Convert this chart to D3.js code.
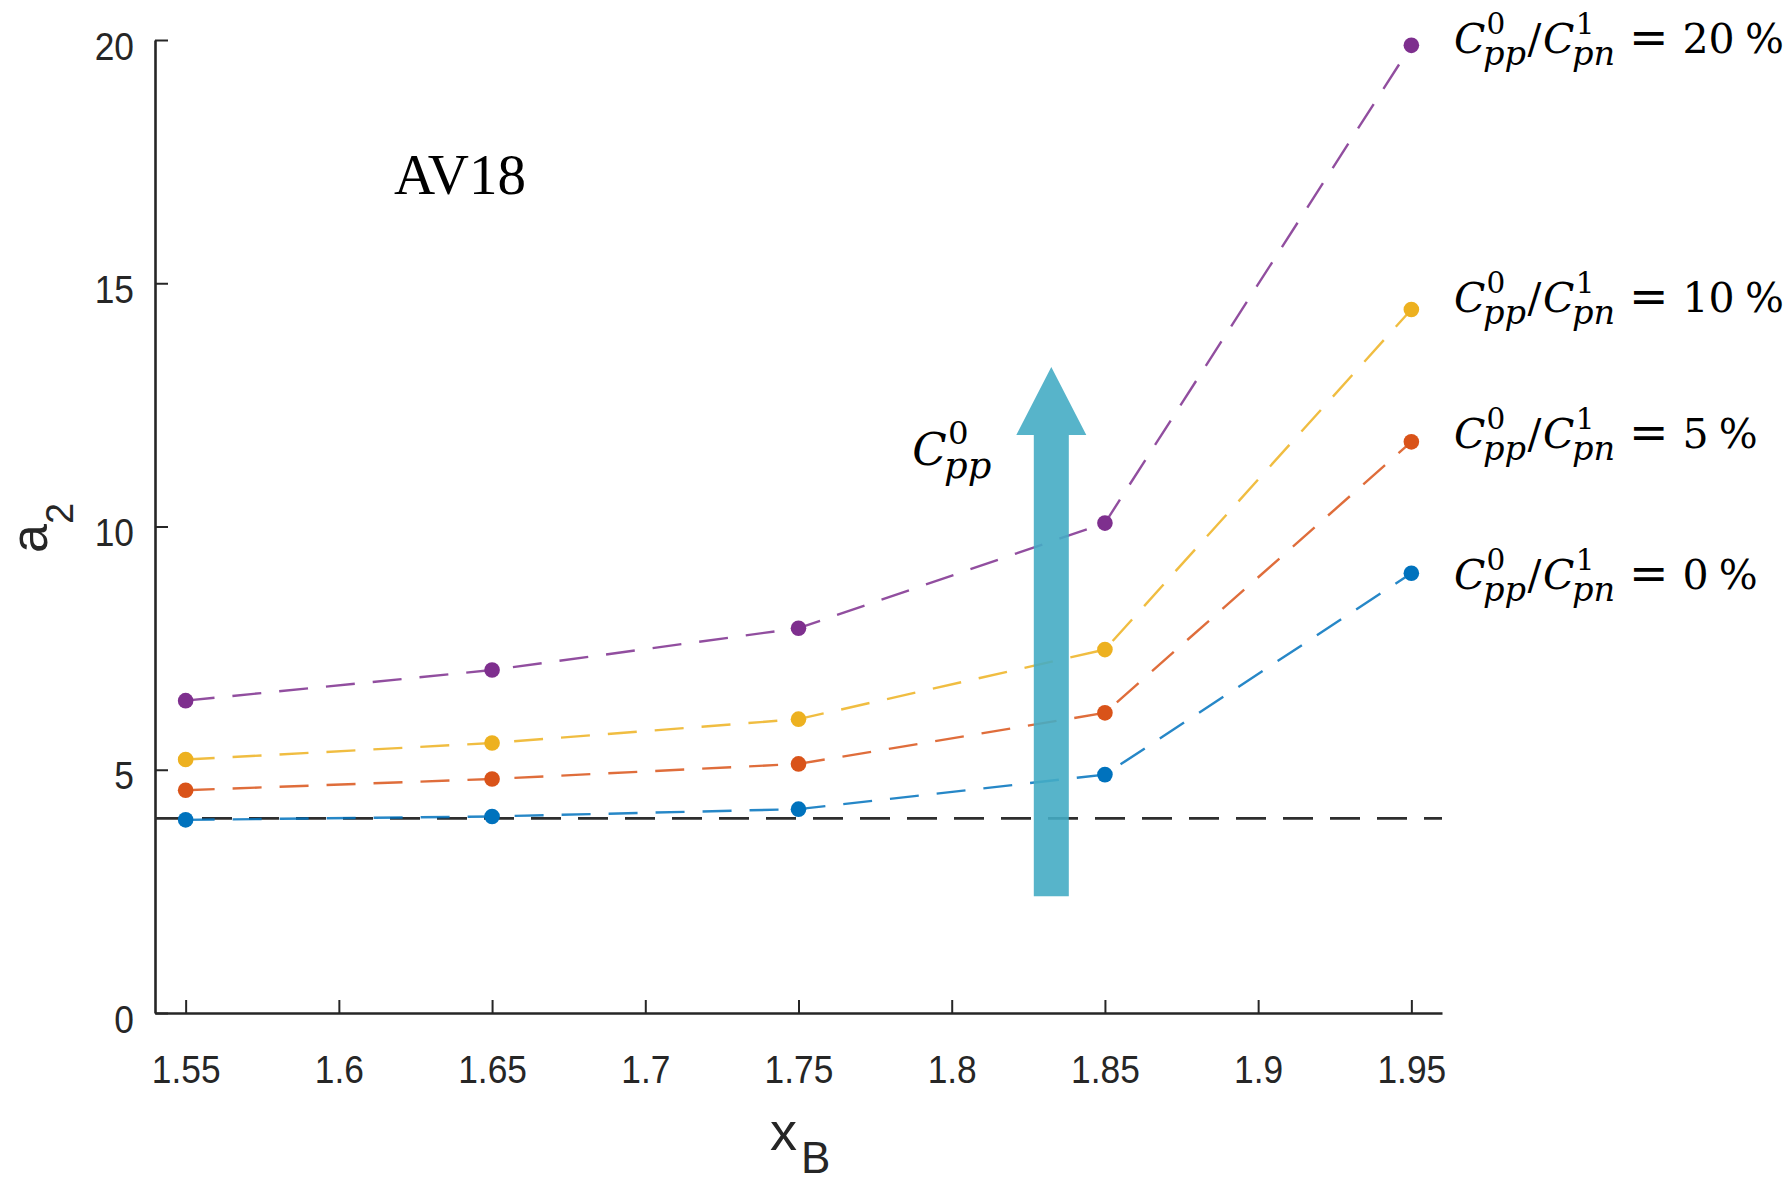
<!DOCTYPE html>
<html>
<head>
<meta charset="utf-8">
<script src="https://cdn.jsdelivr.net/npm/d3@7"></script>
<style>
  body { margin: 0; background: #ffffff; }
  svg { display: block; }
  .tick text { fill: #262626; font-family: "Liberation Sans", Arial, sans-serif; }
  .math text { fill: #000; font-family: "DejaVu Serif", serif; }
</style>
</head>
<body>
<svg id="chart" width="1791" height="1182"></svg>
<script>
// Bjorken x values at which a2 was evaluated
const xB = [1.55, 1.65, 1.75, 1.85, 1.95];

// a2 for each C0pp / C1pn ratio
const ratioLabels = ["0", "5", "10", "20"];
const a2Ratio0  = [3.97, 4.04, 4.19, 4.90, 9.04];
const a2Ratio5  = [4.58, 4.81, 5.12, 6.17, 11.74];
const a2Ratio10 = [5.21, 5.55, 6.04, 7.47, 14.46];
const a2Ratio20 = [6.42, 7.05, 7.91, 10.07, 19.89];

// Axis ticks
const xTickValues = [1.55, 1.6, 1.65, 1.7, 1.75, 1.8, 1.85, 1.9, 1.95];
const xTickLabels = ["1.55", "1.6", "1.65", "1.7", "1.75", "1.8", "1.85", "1.9", "1.95"];
const yTickValues = [0, 5, 10, 15, 20];
const yTickLabels = ["0", "5", "10", "15", "20"];

// Deuteron-like reference level
const referenceA2 = 4;

// Arrow annotation (x position, from a2, to a2)
const arrowX = 1.8325;
const arrowFrom = 2.4;
const arrowTo = 13.28;

const modelName = "AV18";

// ---- styles ----
const seriesColors = ["#0072BD", "#D95319", "#EDB120", "#7E2F8E"];
const labelNudge = [15.5, 6, 2.5, 7.5];
const axisColor = "#262626";

const svg = d3.select("#chart");

const x = d3.scaleLinear().domain([1.54, 1.96]).range([155, 1442]);
const y = d3.scaleLinear().domain([0, 20]).range([1013, 40]);

const tickScaleX = 0.93;

// x axis
const gx = svg.append("g")
  .attr("transform", `translate(0,${y(0)})`)
  .call(d3.axisBottom(x)
    .tickValues(xTickValues)
    .tickFormat((d, i) => xTickLabels[i])
    .tickSize(-13)
    .tickSizeOuter(0)
    .tickPadding(43));
gx.select(".domain").attr("stroke", axisColor).attr("stroke-width", 2.6);
gx.selectAll(".tick line").attr("stroke", axisColor).attr("stroke-width", 2);
gx.selectAll(".tick text")
  .style("font-size", "38px")
  .attr("transform", `scale(${tickScaleX},1)`);

// y axis
const gy = svg.append("g")
  .attr("transform", `translate(${x(1.54)},0)`)
  .call(d3.axisLeft(y)
    .tickValues(yTickValues)
    .tickFormat((d, i) => yTickLabels[i])
    .tickSize(-13)
    .tickSizeOuter(0)
    .tickPadding(21));
gy.select(".domain").attr("stroke", axisColor).attr("stroke-width", 2.6);
gy.selectAll(".tick line").attr("stroke", axisColor).attr("stroke-width", 2);
gy.selectAll(".tick text")
  .style("font-size", "38px")
  .attr("x", -21 / tickScaleX)
  .attr("dy", "0.5em")
  .attr("transform", `scale(${tickScaleX},1)`);

// axis titles
svg.append("text")
  .attr("x", 770).attr("y", 1150)
  .attr("fill", axisColor)
  .style("font-family", "'Liberation Sans', Arial, sans-serif")
  .style("font-size", "54px")
  .text("x")
  .append("tspan")
  .attr("dy", 23)
  .attr("dx", 4)
  .style("font-size", "44px")
  .text("B");

svg.append("text")
  .attr("transform", "translate(47,553) rotate(-90)")
  .attr("fill", axisColor)
  .style("font-family", "'Liberation Sans', Arial, sans-serif")
  .style("font-size", "52px")
  .text("a")
  .append("tspan")
  .attr("dy", 26)
  .style("font-size", "38px")
  .text("2");

// reference line
svg.append("line")
  .attr("x1", x(1.54)).attr("x2", x(1.96))
  .attr("y1", y(referenceA2)).attr("y2", y(referenceA2))
  .attr("stroke", "#2e2e2e")
  .attr("stroke-width", 2.8)
  .attr("stroke-dasharray", "30,17");

// series
const seriesValues = [a2Ratio0, a2Ratio5, a2Ratio10, a2Ratio20];
const line = d3.line().x((d, i) => x(xB[i])).y(d => y(d));

seriesValues.forEach((vals, k) => {
  const g = svg.append("g");
  g.append("path")
    .datum(vals)
    .attr("d", line)
    .attr("fill", "none")
    .attr("stroke", seriesColors[k])
    .attr("stroke-width", 2.4)
    .attr("stroke-opacity", 0.85)
    .attr("stroke-dasharray", "29,18");
  g.selectAll("circle")
    .data(vals)
    .join("circle")
    .attr("cx", (d, i) => x(xB[i]))
    .attr("cy", d => y(d))
    .attr("r", 7.8)
    .attr("fill", seriesColors[k]);
});

// arrow
const ax = x(arrowX);
const shaftHalf = 17.5, headHalf = 35, headLen = 68;
const yTip = y(arrowTo), yBase = y(arrowFrom), yHead = yTip + headLen;
svg.append("path")
  .attr("d", `M${ax - shaftHalf},${yBase} L${ax - shaftHalf},${yHead} L${ax - headHalf},${yHead}
              L${ax},${yTip} L${ax + headHalf},${yHead} L${ax + shaftHalf},${yHead} L${ax + shaftHalf},${yBase} Z`)
  .attr("fill", "#45ACC4")
  .attr("fill-opacity", 0.9);

// math label helper: base symbols with stacked super/subscripts
function mathLabel(parent, x0, y0, F, parts) {
  const g = parent.append("g").attr("class", "math");
  let cx = x0;
  parts.forEach(p => {
    if (p.gap) { cx += p.gap * F; return; }
    if (p.base !== undefined) {
      const size = F * (p.scale || 1);
      const t = g.append("text")
        .attr("x", cx).attr("y", y0)
        .style("font-size", size + "px")
        .style("font-style", p.italic ? "italic" : "normal")
        .text(p.base);
      cx += t.node().getComputedTextLength();
    }
    if (p.sup || p.sub) {
      let w = 0;
      if (p.sup) {
        const s = g.append("text")
          .attr("x", cx + 0.03 * F).attr("y", y0 - 0.46 * F)
          .style("font-size", (0.72 * F) + "px")
          .text(p.sup);
        w = Math.max(w, s.node().getComputedTextLength() + 0.03 * F);
      }
      if (p.sub) {
        const s = g.append("text")
          .attr("x", cx - 0.06 * F).attr("y", y0 + 0.3 * F)
          .style("font-size", (0.82 * F) + "px")
          .style("font-style", "italic")
          .text(p.sub);
        w = Math.max(w, s.node().getComputedTextLength() - 0.06 * F);
      }
      cx += w;
    }
  });
  return g;
}

// series labels at the right end
seriesValues.forEach((vals, k) => {
  const last = vals[vals.length - 1];
  mathLabel(svg, 1454, y(last) + labelNudge[k], 41, [
    { base: "C", italic: true, sup: "0", sub: "pp" },
    { gap: 0.04 },
    { base: "/" },
    { gap: 0.04 },
    { base: "C", italic: true, sup: "1", sub: "pn" },
    { gap: 0.34 },
    { base: "=", scale: 1.15 },
    { gap: 0.34 },
    { base: ratioLabels[k] },
    { gap: 0.25 },
    { base: "%" }
  ]);
});

// arrow label
mathLabel(svg, ax - 139, yHead + 30, 45, [
  { base: "C", italic: true, sup: "0", sub: "pp" }
]);

// model name
svg.append("text")
  .attr("x", 394).attr("y", 194)
  .style("font-family", "'Liberation Serif', 'Times New Roman', serif")
  .style("font-size", "57px")
  .attr("fill", "#000")
  .text(modelName);
</script>
</body>
</html>
